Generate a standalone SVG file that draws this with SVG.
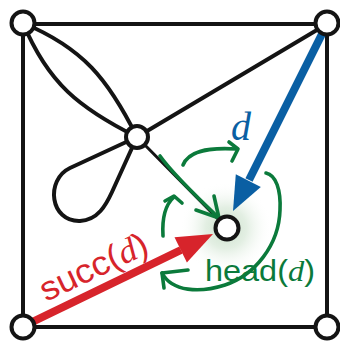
<svg xmlns="http://www.w3.org/2000/svg" width="340" height="342" viewBox="0 0 340 342">
  <defs>
    <radialGradient id="glow" cx="226" cy="228" r="46" gradientUnits="userSpaceOnUse">
      <stop offset="0" stop-color="#c9dfc9" stop-opacity="1"/>
      <stop offset="0.45" stop-color="#dcebdc" stop-opacity="0.8"/>
      <stop offset="1" stop-color="#ffffff" stop-opacity="0"/>
    </radialGradient>
  </defs>
  <style>
    .edge { fill: none; stroke: #141414; stroke-width: 4; stroke-linecap: round; stroke-linejoin: round; }
    .thin { fill: none; stroke: #141414; stroke-width: 3; stroke-linecap: round; }
    .node { fill: #ffffff; stroke: #141414; stroke-width: 4; }
    .rot { fill: none; stroke: #0b7a3b; stroke-width: 3.6; stroke-linecap: round; stroke-linejoin: round; }
    .sans { font-family: "Liberation Sans", Arial, sans-serif; }
    .serif { font-family: "Liberation Serif", "Times New Roman", serif; font-style: italic; }
  </style>
  <rect width="340" height="342" fill="#ffffff"/>
  <circle cx="226" cy="228" r="46" fill="url(#glow)"/>

  <g id="connectors">
    <rect class="edge" x="23" y="24" width="304" height="303"/>
    <path class="edge" d="M23,23 C83,48 108,79 137,137"/>
    <path class="edge" d="M23,23 C48,83 79,108 137,137"/>
    <path class="edge" d="M137,137 L327,24"/>
    <path class="edge" d="M137,137 L70,168 C45,180 50,222 80,221 C98,220 106,205 112,192 Z"/>
    <path class="thin" d="M137,137 L219,220"/>
    <!-- dart d -->
    <path d="M324,30 L249,180" stroke="#0a5fa3" stroke-width="8" fill="none"/>
    <polygon points="233,211 235.8,174.3 260.8,186.9" fill="#0a5fa3"/>
    <!-- succ(d) -->
    <path d="M26,325 L181,250" stroke="#d7242b" stroke-width="8" fill="none"/>
    <polygon points="213,234 174.5,237.2 186.9,262.4" fill="#d7242b"/>
    <!-- rotation arrows -->
    <path class="rot" d="M160,156 C170,170 200,200 219,218"/>
    <path class="rot" d="M196,210 L219,218 L214,196"/>
    <path class="rot" d="M183,165 C188,152 205,147 237,149"/>
    <path class="rot" d="M229,142 L238,149 L232,161"/>
    <path class="rot" d="M163,236 C162,220 165,205 174,197"/>
    <path class="rot" d="M165,201 L174,196 L182,203"/>
    <path class="rot" d="M266,173 C276,175 281,190 280,210 C279,245 255,275 225,285 C200,293 172,292 162,273"/>
    <path class="rot" d="M188,270 L162,273 L164,288"/>
  </g>

  <g id="node-tl"><circle class="node" cx="23" cy="23" r="11.5"/></g>
  <g id="node-tr"><circle class="node" cx="327" cy="23" r="11.5"/></g>
  <g id="node-bl"><circle class="node" cx="23" cy="327" r="11.5"/></g>
  <g id="node-br"><circle class="node" cx="327" cy="327" r="11.5"/></g>
  <g id="node-center"><circle class="node" cx="137" cy="137" r="11"/></g>
  <g id="node-head"><circle class="node" cx="227" cy="228" r="11.5"/></g>

  <g id="labels">
    <text class="serif" x="231" y="140" font-size="40" fill="#0a5fa3">d</text>
    <text class="sans" x="205" y="281" font-size="29" fill="#0b7a3b" textLength="110" lengthAdjust="spacingAndGlyphs">head(<tspan class="serif">d</tspan>)</text>
    <text class="sans" transform="translate(46,302) rotate(-25.4)" font-size="34" fill="#d7242b" textLength="116" lengthAdjust="spacingAndGlyphs">succ(<tspan class="serif">d</tspan>)</text>
  </g>
</svg>
